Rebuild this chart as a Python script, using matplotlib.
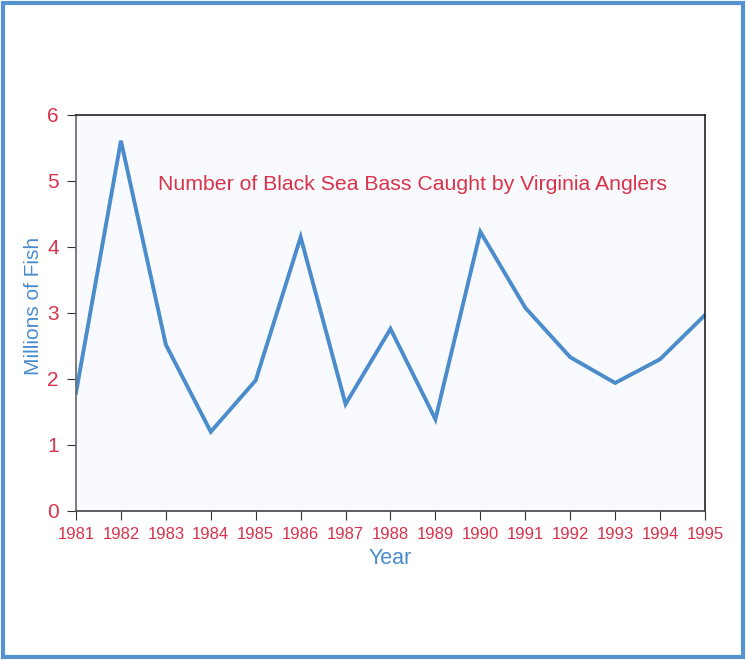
import matplotlib
matplotlib.use("Agg")
import matplotlib.pyplot as plt
from matplotlib.patches import Rectangle

years = [1981, 1982, 1983, 1984, 1985, 1986, 1987, 1988, 1989, 1990, 1991, 1992, 1993, 1994, 1995]
fish = [1.79, 5.61, 2.52, 1.20, 1.98, 4.15, 1.62, 2.76, 1.39, 4.23, 3.08, 2.33, 1.94, 2.30, 2.97]
y_ticks = [0, 1, 2, 3, 4, 5, 6]

plt.rcParams['font.family'] = ['Liberation Sans', 'DejaVu Sans']
red = '#d9334c'
blue = '#4a8ccc'

fig = plt.figure(figsize=(7.46, 6.6), dpi=100)
fig.patches.append(Rectangle((0.004, 0.004), 0.992, 0.992, transform=fig.transFigure,
                             fill=False, edgecolor='#5592d0', linewidth=3.0))
ax = fig.add_axes([76/746, 149/660, 629/746, 396/660])
ax.set_facecolor('#f8fafd')
ax.plot(years, fish, color=blue, linewidth=2.8, solid_joinstyle='miter')
ax.set_xlim(1981, 1995)
ax.set_ylim(0, 6)
ax.set_xticks(years)
ax.set_yticks(y_ticks)
ax.tick_params(axis='x', colors='#333333', labelcolor=red, labelsize=12, length=6.5, pad=5)
ax.tick_params(axis='y', colors='#333333', labelcolor=red, labelsize=15, length=6.5, pad=6)
for s in ax.spines.values():
    s.set_color('#222222')
    s.set_linewidth(1.2)
ax.spines['left'].set_color('#666666')
ax.spines['bottom'].set_color('#444444')
ax.set_xlabel('Year', color=blue, fontsize=15.5, labelpad=4)
ax.set_ylabel('Millions of Fish', color=blue, fontsize=15)
ax.yaxis.set_label_coords(-0.068, 0.518)
ax.yaxis.label.set_verticalalignment('center')
ax.text(0.535, 0.825, 'Number of Black Sea Bass Caught by Virginia Anglers',
        transform=ax.transAxes, ha='center', va='center', color=red, fontsize=15.3)
fig.savefig('out.png', dpi=100)
